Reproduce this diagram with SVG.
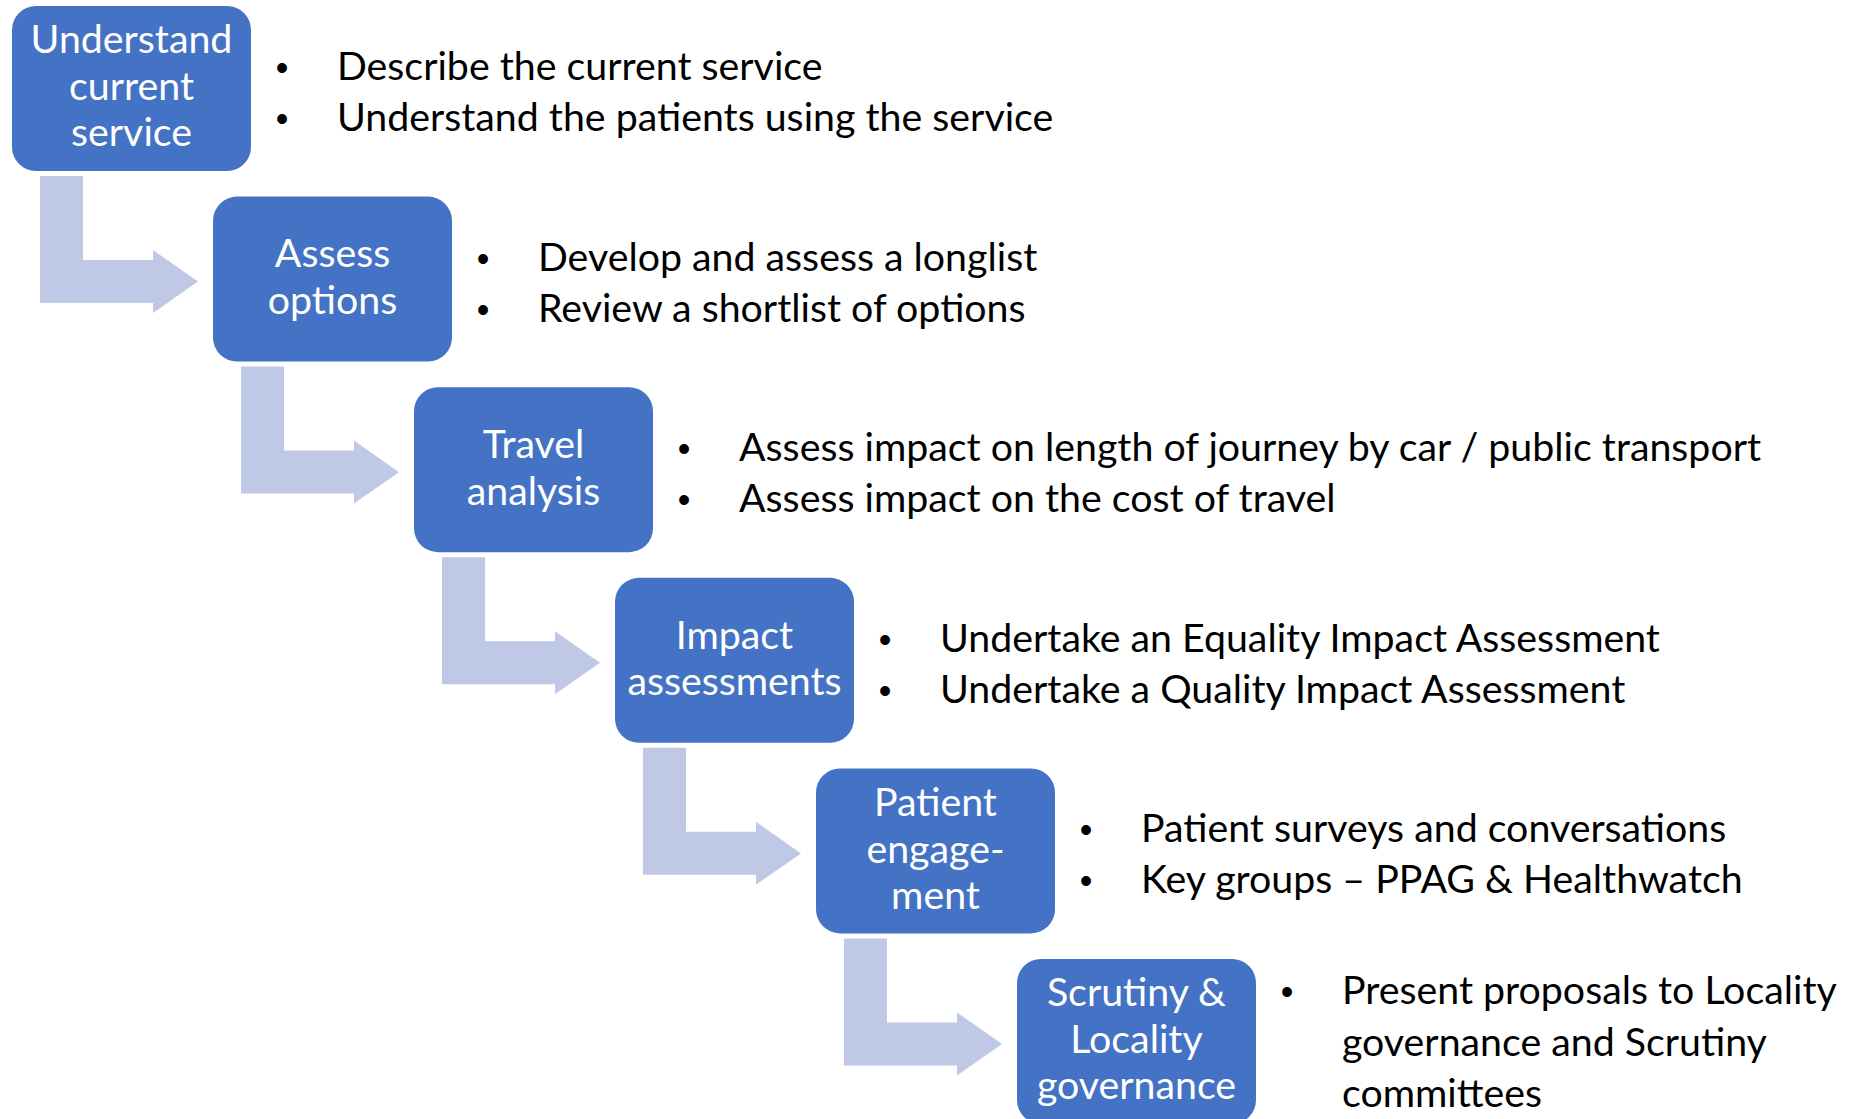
<svg xmlns="http://www.w3.org/2000/svg" width="1864" height="1119" viewBox="0 0 1864 1119">
<style>
.box{fill:#4472C4}
.arr{fill:#BFC8E4}
.bt{font-family:Lato,"Open Sans","Liberation Sans",sans-serif;font-size:39.3px;fill:#FFFFFF;text-anchor:middle}
.tx{font-family:Lato,"Open Sans","Liberation Sans",sans-serif;font-size:39.3px;fill:#000000}
.bl{font-family:"Liberation Sans",sans-serif;font-size:36px;fill:#000000;text-anchor:middle}
</style>
<rect width="1864" height="1119" fill="#FFFFFF"/>
<g id="connectors">
<polygon class="arr" points="40,176 83,176 83,260 153,260 153,250 198,281.6 153,313 153,303 40,303"/>
<polygon class="arr" points="241,366.6 284,366.6 284,450.6 354,450.6 354,440.6 399,472.2 354,503.6 354,493.6 241,493.6"/>
<polygon class="arr" points="442,557.2 485,557.2 485,641.2 555,641.2 555,631.2 600,662.8 555,694.2 555,684.2 442,684.2"/>
<polygon class="arr" points="643,747.8 686,747.8 686,831.8 756,831.8 756,821.8 801,853.4 756,884.8 756,874.8 643,874.8"/>
<polygon class="arr" points="844,938.4 887,938.4 887,1022.4 957,1022.4 957,1012.4 1002,1044 957,1075.4 957,1065.4 844,1065.4"/>
</g>
<g id="node1">
<rect class="box" x="12" y="6" width="239" height="165" rx="24"/>
<text class="bt" x="131.5" y="53">Understand</text>
<text class="bt" x="131.5" y="100">current</text>
<text class="bt" x="131.5" y="146">service</text>
<text class="bl" x="282" y="80">•</text>
<text class="tx" x="337" y="80">Describe the current service</text>
<text class="bl" x="282" y="131">•</text>
<text class="tx" x="337" y="131">Understand the patients using the service</text>
</g>
<g id="node2">
<rect class="box" x="213" y="196.6" width="239" height="165" rx="24"/>
<text class="bt" x="332.5" y="267">Assess</text>
<text class="bt" x="332.5" y="314">options</text>
<text class="bl" x="483" y="270.6">•</text>
<text class="tx" x="538" y="270.6">Develop and assess a longlist</text>
<text class="bl" x="483" y="321.6">•</text>
<text class="tx" x="538" y="321.6">Review a shortlist of options</text>
</g>
<g id="node3">
<rect class="box" x="414" y="387.2" width="239" height="165" rx="24"/>
<text class="bt" x="533.5" y="458">Travel</text>
<text class="bt" x="533.5" y="505">analysis</text>
<text class="bl" x="684" y="461.2">•</text>
<text class="tx" x="739" y="461.2">Assess impact on length of journey by car / public transport</text>
<text class="bl" x="684" y="512.2">•</text>
<text class="tx" x="739" y="512.2">Assess impact on the cost of travel</text>
</g>
<g id="node4">
<rect class="box" x="615" y="577.8" width="239" height="165" rx="24"/>
<text class="bt" x="734.5" y="648.5">Impact</text>
<text class="bt" x="734.5" y="695">assessments</text>
<text class="bl" x="885" y="651.8">•</text>
<text class="tx" x="940" y="651.8">Undertake an Equality Impact Assessment</text>
<text class="bl" x="885" y="702.8">•</text>
<text class="tx" x="940" y="702.8">Undertake a Quality Impact Assessment</text>
</g>
<g id="node5">
<rect class="box" x="816" y="768.4" width="239" height="165" rx="24"/>
<text class="bt" x="935.5" y="815.5">Patient</text>
<text class="bt" x="935.5" y="862.5">engage-</text>
<text class="bt" x="935.5" y="908.5">ment</text>
<text class="bl" x="1086" y="842.4">•</text>
<text class="tx" x="1141" y="842.4">Patient surveys and conversations</text>
<text class="bl" x="1086" y="893.4">•</text>
<text class="tx" x="1141" y="893.4">Key groups – PPAG &amp; Healthwatch</text>
</g>
<g id="node6">
<rect class="box" x="1017" y="959" width="239" height="165" rx="24"/>
<text class="bt" x="1136.5" y="1006">Scrutiny &amp;</text>
<text class="bt" x="1136.5" y="1053">Locality</text>
<text class="bt" x="1136.5" y="1099">governance</text>
<text class="bl" x="1287" y="1004">•</text>
<text class="tx" x="1342" y="1004">Present proposals to Locality</text>
<text class="tx" x="1342" y="1056">governance and Scrutiny</text>
<text class="tx" x="1342" y="1107">committees</text>
</g>
</svg>
